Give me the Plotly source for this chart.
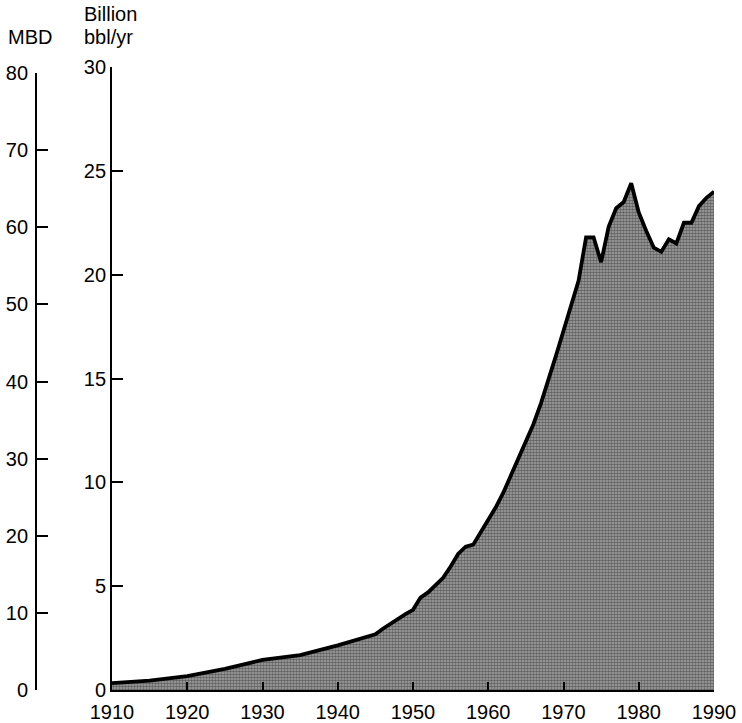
import plotly.graph_objects as go

# World crude oil production, billion barrels per year
early_years = [1910, 1915, 1920, 1925, 1930, 1935, 1940, 1945]
early_vals = [0.33, 0.45, 0.67, 1.02, 1.45, 1.68, 2.15, 2.68]
late_years = list(range(1946, 1991))
late_vals = [2.95, 3.2, 3.45, 3.65, 3.86, 4.45, 4.7, 5.05, 5.4, 5.95,
             6.55, 6.9, 7.0, 7.6, 8.2, 8.8, 9.5, 10.3, 11.1, 11.9,
             12.8, 13.8, 14.9, 16.1, 17.3, 18.5, 19.7, 21.8, 21.8, 20.6,
             22.3, 23.2, 23.5, 24.4, 23.0, 22.1, 21.3, 21.1, 21.7, 21.5,
             22.5, 22.5, 23.3, 23.7, 24.0]
prod_years = early_years + late_years
prod_vals = early_vals + late_vals

x_ticks = [1910, 1920, 1930, 1940, 1950, 1960, 1970, 1980, 1990]
bbl_ticks = [0, 5, 10, 15, 20, 25, 30]
mbd_ticks = [0, 10, 20, 30, 40, 50, 60, 70, 80]

W, H = 742, 723
PLOT_L, PLOT_R, PLOT_T, PLOT_B = 112, 714, 67, 690  # window pixels
ML = 2
MR = W - PLOT_R
MT = PLOT_T
MB = H - PLOT_B
PW, PH = W - ML - MR, H - MT - MB


def px_x(p):
    return (p - ML) / PW


def px_y(p):
    return (PLOT_B - p) / PH


FONT = "Liberation Sans"
INK = "#000000"

fig = go.Figure()
# dummy trace so the MBD axis is drawn (added first so its subplot sits below)
fig.add_trace(go.Scatter(
    x=[1910], y=[0], yaxis="y2", mode="markers",
    marker=dict(opacity=0), hoverinfo="skip", showlegend=False,
))
fig.add_trace(go.Scatter(
    x=prod_years, y=prod_vals, mode="lines",
    line=dict(color="#000000", width=3.8),
    fill="tozeroy",
    fillcolor="#7c7c7c",
    fillpattern=dict(shape=".", bgcolor="#a6a6a6", fgcolor="#1c1c1c",
                     size=3, solidity=0.6),
    hoverinfo="skip", showlegend=False,
))

axis_common = dict(
    showline=True, linecolor=INK, linewidth=1.8,
    ticks="inside", tickcolor=INK, tickwidth=1.8,
    showgrid=False, zeroline=False, automargin=False,
    tickfont=dict(family=FONT, size=20, color=INK),
)

fig.update_layout(
    width=W, height=H,
    margin=dict(l=ML, r=MR, t=MT, b=MB),
    paper_bgcolor="white", plot_bgcolor="rgba(0,0,0,0)",
    xaxis=dict(range=[1910, 1990], domain=[px_x(PLOT_L), 1.0],
               tickvals=x_ticks, ticklen=8, anchor="y",
               ticklabelstandoff=3, **axis_common),
    yaxis=dict(range=[0, 30], tickvals=bbl_ticks, ticklen=11,
               anchor="x", domain=[0, 1], **axis_common),
    yaxis2=dict(range=[0, 80], tickvals=mbd_ticks, ticklen=11,
                anchor="free", position=px_x(36),
                domain=[0, px_y(73)], ticklabelstandoff=3, **axis_common),
    annotations=[
        dict(text="MBD", x=px_x(6), y=px_y(37), xref="paper", yref="paper",
             xanchor="left", yanchor="middle", showarrow=False,
             font=dict(family=FONT, size=20, color=INK)),
        dict(text="Billion", x=px_x(82), y=px_y(14), xref="paper", yref="paper",
             xanchor="left", yanchor="middle", showarrow=False,
             font=dict(family=FONT, size=20, color=INK)),
        dict(text="bbl/yr", x=px_x(82), y=px_y(37.5), xref="paper", yref="paper",
             xanchor="left", yanchor="middle", showarrow=False,
             font=dict(family=FONT, size=20, color=INK)),
    ],
)

fig.write_html(
    "out.html",
    config={"displayModeBar": False},
    post_script="document.body.style.margin='0px';"
                "document.body.style.overflow='hidden';",
)
